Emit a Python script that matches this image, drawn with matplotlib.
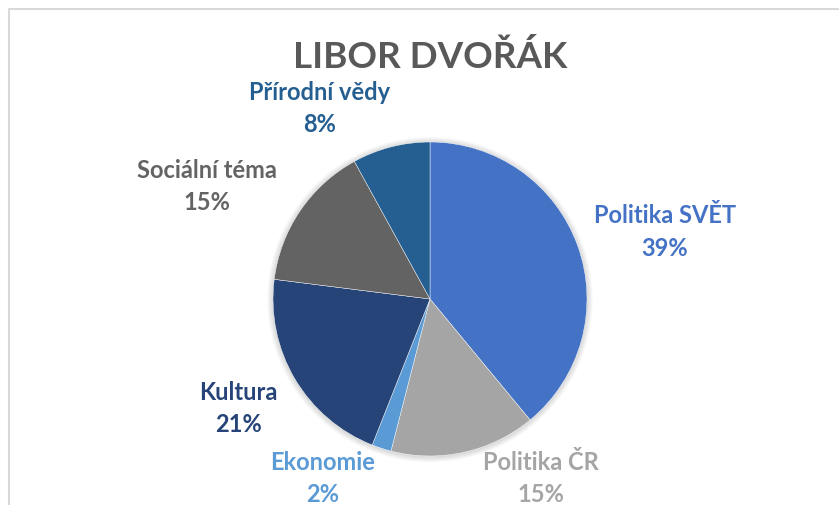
import matplotlib.pyplot as plt
from matplotlib.lines import Line2D
from matplotlib.patches import Circle

# data
categories = ["Politika SVĚT", "Politika ČR", "Ekonomie", "Kultura", "Sociální téma", "Přírodní vědy"]
shares = [39, 15, 2, 21, 15, 8]
colors = ["#4472C4", "#A5A5A5", "#5B9BD5", "#264478", "#636363", "#255E91"]

# label centres in pixels (x, y of first line)
label_pos = [(665, 216), (541, 463), (323, 463), (238, 393), (207, 171), (320, 92)]

W, H = 839, 506
plt.rcParams['font.family'] = ['Lato', 'DejaVu Sans']

fig = plt.figure(figsize=(W / 100, H / 100), dpi=100)

# pie placed by pixel centre and radius
cx, cy, r = 430, 300, 157
pad = 1.05
ax = fig.add_axes([(cx - r * pad) / W, (H - cy - r * pad) / H, 2 * pad * r / W, 2 * pad * r / H])

# soft shadow round the pie
for i in range(6):
    ax.add_patch(Circle((0, -0.004), 1.0 + 0.006 * (i + 1), color="black",
                        alpha=0.025, lw=0, zorder=0))

ax.pie(shares, colors=colors, startangle=90, counterclock=False, radius=1,
       wedgeprops=dict(edgecolor="white", linewidth=0.3))
ax.set_xlim(-pad, pad)
ax.set_ylim(-pad, pad)
ax.set_aspect("equal")
ax.axis("off")

fig.text(430 / W, 1 - 57 / H, "LIBOR DVOŘÁK", ha="center", va="center",
         fontsize=26.5, fontweight="bold", color="#595959")

for name, val, col, (px, py) in zip(categories, shares, colors, label_pos):
    fig.text(px / W, 1 - py / H, name, ha="center", va="center",
             fontsize=17, fontweight="bold", color=col)
    fig.text(px / W, 1 - (py + 32) / H, f"{val}%", ha="center", va="center",
             fontsize=17, fontweight="bold", color=col)

# chart frame (cropped on right and bottom)
fig.add_artist(Line2D([9 / W, 9 / W, 1], [0, 1 - 10 / H, 1 - 10 / H],
                      transform=fig.transFigure, color="#D9D9D9", lw=1.5))

fig.savefig("out.png", dpi=100)
